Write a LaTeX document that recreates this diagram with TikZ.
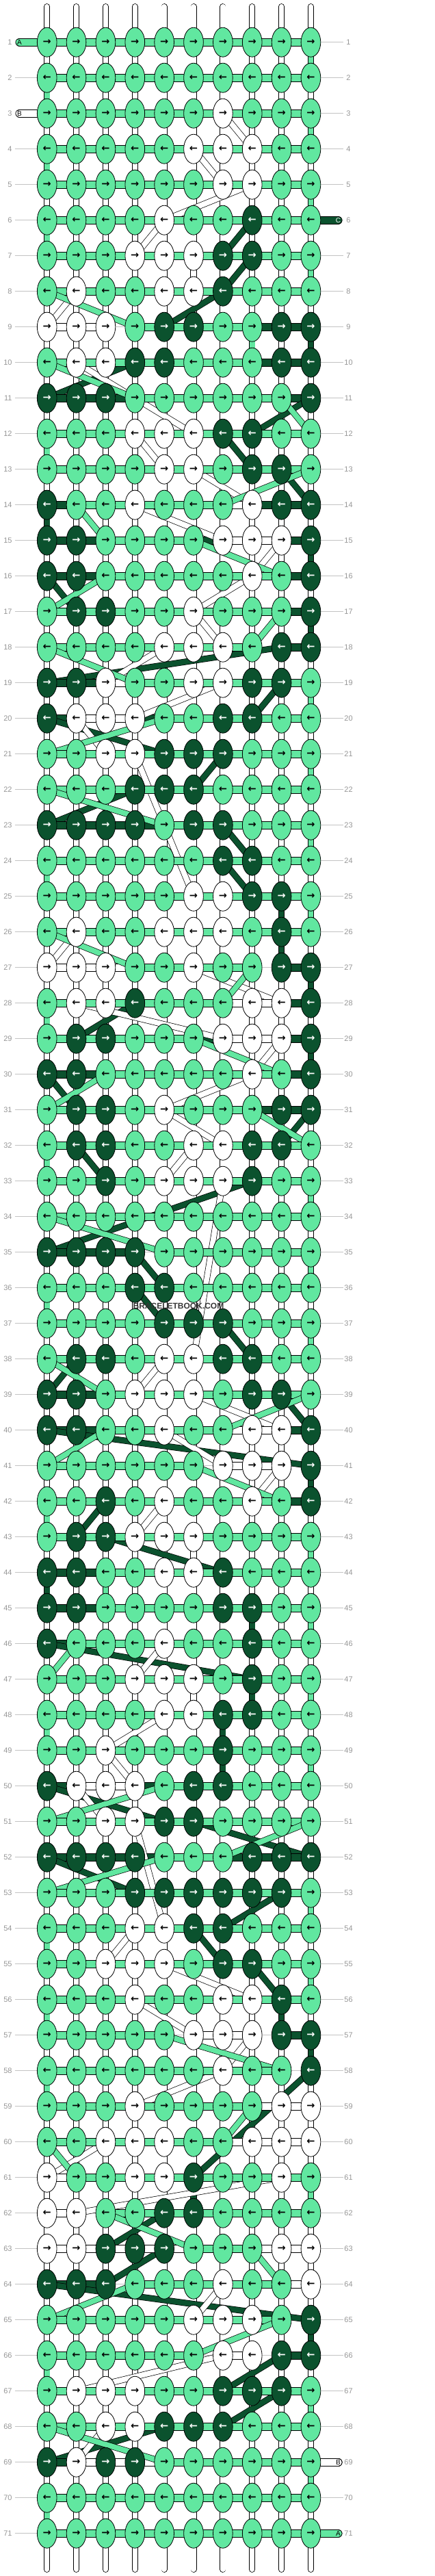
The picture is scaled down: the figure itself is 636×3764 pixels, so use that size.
\documentclass[tikz,border=0pt]{standalone}
\usepackage{fontspec}
\setmainfont{Liberation Sans}
\newfontfamily\arrowfont{DejaVu Sans}
\usepackage{tikz}
\usetikzlibrary{
  positioning,
  shapes.geometric
}

\definecolor{mint}{RGB}{97,231,160}
\definecolor{pine}{RGB}{11,82,46}
\definecolor{labelgray}{RGB}{150,150,150}
\definecolor{guidegray}{RGB}{195,195,195}
\colorlet{knotG}{mint}
\colorlet{knotW}{white}
\colorlet{knotD}{pine}
\colorlet{tipG}{black}
\colorlet{tipW}{black}
\colorlet{tipD}{white}

\pgfdeclarelayer{back}
\pgfdeclarelayer{strings}
\pgfsetlayers{back,strings,main}

\tikzset{
  knot/.style={ellipse, draw=black, line width=0.8pt, minimum width=28.7pt,
    minimum height=43pt, inner sep=0pt,
    font=\arrowfont\bfseries\fontsize{14.5}{14.5}\selectfont},
  warp/.style={draw=black, line width=0.8pt, double=white, double distance=7.4pt, line cap=round},
  bar/.style={draw=black, line width=0.8pt, double=#1, double distance=10.4pt, line cap=round},
  strip/.style={draw=black, line width=0.7pt, double=#1, double distance=7.8pt},
  guide/.style={draw=guidegray, line width=0.8pt},
  rowlabel/.style={text=labelgray, font=\fontsize{11}{11}\selectfont, inner ysep=1pt},
  tabletter/.style={font=\fontsize{10}{10}\selectfont, inner sep=0pt}
}

% one row per line, 10 knots each, G = mint, W = white, D = dark green
\def\knotrows{%
{G,G,G,G,G,G,G,G,G,G},{G,G,G,G,G,G,G,G,G,G},{G,G,G,G,G,G,W,G,G,G},
{G,G,G,G,G,W,W,W,G,G},{G,G,G,G,G,G,W,W,G,G},{G,G,G,G,W,G,G,D,G,G},
{G,G,G,W,W,W,D,D,G,G},{G,W,G,G,W,W,D,G,G,G},{W,W,W,G,D,D,G,G,D,D},
{G,W,W,D,D,G,G,G,D,D},{D,D,D,G,G,G,G,G,G,D},{G,G,G,W,W,W,D,D,G,G},
{G,G,G,G,W,W,G,D,D,G},{D,G,G,W,G,G,G,W,D,D},{D,D,G,G,G,G,W,W,W,D},
{D,D,G,G,G,G,G,W,G,D},{G,D,D,G,G,W,G,G,G,D},{G,G,G,G,W,W,W,G,D,D},
{D,D,W,G,G,W,W,D,D,G},{D,W,W,W,G,G,D,D,G,G},{G,G,W,W,D,D,D,G,G,G},
{G,G,G,D,D,D,G,G,G,G},{D,D,D,D,G,D,D,G,G,G},{G,G,G,G,G,G,D,D,G,G},
{G,G,G,G,G,W,W,D,D,G},{G,W,G,G,W,W,W,G,D,G},{W,W,W,G,G,W,G,G,D,D},
{G,W,W,D,G,G,G,W,W,D},{G,D,D,G,G,G,W,W,W,D},{D,D,G,G,G,G,G,W,G,D},
{G,D,D,G,W,G,G,G,D,D},{G,D,D,G,G,W,W,D,D,G},{G,G,D,G,W,W,W,D,G,G},
{G,G,G,G,G,G,G,G,G,G},{D,D,D,D,G,G,G,G,G,G},{G,G,G,D,D,G,G,G,G,G},
{G,G,G,G,D,D,D,G,G,G},{G,D,D,G,W,W,D,D,G,G},{D,D,G,W,W,W,G,D,D,G},
{D,D,G,G,W,G,G,W,W,D},{G,G,G,G,G,G,W,W,W,D},{G,G,D,G,W,G,G,W,G,D},
{G,D,D,W,W,W,G,G,G,G},{D,D,G,G,W,W,D,G,G,G},{D,D,G,G,G,G,D,D,G,G},
{D,G,G,G,W,G,G,D,G,G},{G,G,G,W,W,W,G,D,G,G},{G,G,G,G,W,W,D,D,G,G},
{G,G,W,G,G,G,D,G,G,G},{D,W,W,W,G,D,D,G,G,G},{G,G,W,W,D,D,G,G,G,G},
{D,D,D,D,G,G,G,D,D,D},{G,G,G,D,D,D,D,D,D,G},{G,G,G,W,W,D,D,G,G,G},
{G,G,W,W,W,G,D,D,G,G},{G,G,G,W,G,G,W,W,D,G},{G,G,G,G,G,W,W,W,D,D},
{G,G,G,G,G,G,W,G,G,D},{G,G,G,W,G,G,G,G,W,W},{G,G,W,W,W,G,G,W,W,W},
{W,G,G,W,W,D,G,G,W,G},{W,W,G,G,D,D,G,G,G,G},{W,W,D,D,D,G,G,G,W,W},
{D,D,D,G,G,G,W,G,G,W},{G,G,G,G,G,W,W,W,G,D},{G,G,G,G,G,G,W,W,D,D},
{G,W,W,W,G,G,D,D,D,G},{G,G,W,W,D,D,D,G,G,G},{D,W,D,D,G,G,G,G,G,G},
{G,G,G,G,G,G,G,G,G,G},{G,G,G,G,G,G,G,G,G,G}}

% #1 knot letter, #2 colour, #3 tab it enters at, #4 tab it leaves at
\newcommand{\runweft}[4]{%
  \xdef\lastknot{#3.center}\gdef\tabdone{0}%
  \foreach \r in {1,...,71}{%
    \gdef\lowcol{0}\gdef\highcol{0}%
    \foreach \c in {1,...,10}{%
      \if#1\csname kc-\r-\c\endcsname
        \ifnum\lowcol=0 \xdef\lowcol{\c}\fi
        \xdef\highcol{\c}%
      \fi}%
    \ifnum\lowcol>0
      \ifodd\r \edef\firstcol{\lowcol}\edef\lastcol{\highcol}%
      \else \edef\firstcol{\highcol}\edef\lastcol{\lowcol}\fi
      \ifnum\tabdone=0
        \draw[bar=#2] (\lastknot) -- (k-\r-\firstcol.center);
        \gdef\tabdone{1}%
      \else
        \draw[strip=#2] (\lastknot) -- (k-\r-\firstcol.center);
      \fi
      \ifnum\lowcol<\highcol
        \draw[bar=#2] (k-\r-\lowcol.center) -- (k-\r-\highcol.center);
      \fi
      \xdef\lastknot{k-\r-\lastcol.center}%
    \fi}%
  \draw[bar=#2] (\lastknot) -- (#4.center);
}

\begin{document}
\begin{tikzpicture}[x=1pt,y=-1pt]
	\useasboundingbox (0,0) rectangle (636,3764);

	% knots
	\foreach \rowcode [count=\r] in \knotrows {
		\foreach \k [count=\c] in \rowcode {
			\expandafter\xdef\csname kc-\r-\c\endcsname{\k}
			\ifodd\r \def\tip{→}\else \def\tip{←}\fi
			\node[knot, fill=knot\k, text=tip\k] (k-\r-\c)
				at ({68.7+42.86*(\c-1)}, {61.7+52*(\r-1)}) {\tip};
		}
	}

	% row numbers and guide lines
	\begin{pgfonlayer}{back}
	\foreach \r in {1,...,71} {
		\node[rowlabel, anchor=east, inner xsep=4pt] (lbl-l-\r) at (21.7, {61.7+52*(\r-1)}) {\r};
		\node[rowlabel, inner xsep=0pt, minimum width=15.6pt] (lbl-r-\r) at (509.5, {61.7+52*(\r-1)}) {\r};
		\draw[guide] (lbl-l-\r) -- (lbl-r-\r);
	}
	\foreach \c in {1,...,10} {
		\coordinate (top-\c) at ({68.7+42.86*(\c-1)}, 9.6);
		\coordinate (bot-\c) at ({68.7+42.86*(\c-1)}, 3754.4);
		\draw[warp] (top-\c) -- (bot-\c);
	}
	\end{pgfonlayer}

	% string ends
	\node[tabletter] (tab-a) at (28.5, 61.7) {A};
	\node[tabletter] (tab-b) at (28.5, 165.7) {B};
	\node[tabletter, text=white] (tab-c) at (494.5, 321.7) {C};
	\node[tabletter] (end-b) at (494.5, 3597.7) {B};
	\node[tabletter] (end-a) at (494.5, 3701.7) {A};
	\coordinate (end-c) at (494.5, 3597.7);

	\begin{pgfonlayer}{strings}
	\runweft{D}{pine}{tab-c}{end-c}
	\runweft{W}{white}{tab-b}{end-b}
	\runweft{G}{mint}{tab-a}{end-a}
	\end{pgfonlayer}

	\node[font=\bfseries\fontsize{12}{12}\selectfont, text={rgb,255:red,55;green,55;blue,55}] (mark)
		at (261, 1908) {BRACELETBOOK.COM};

\end{tikzpicture}
\end{document}
